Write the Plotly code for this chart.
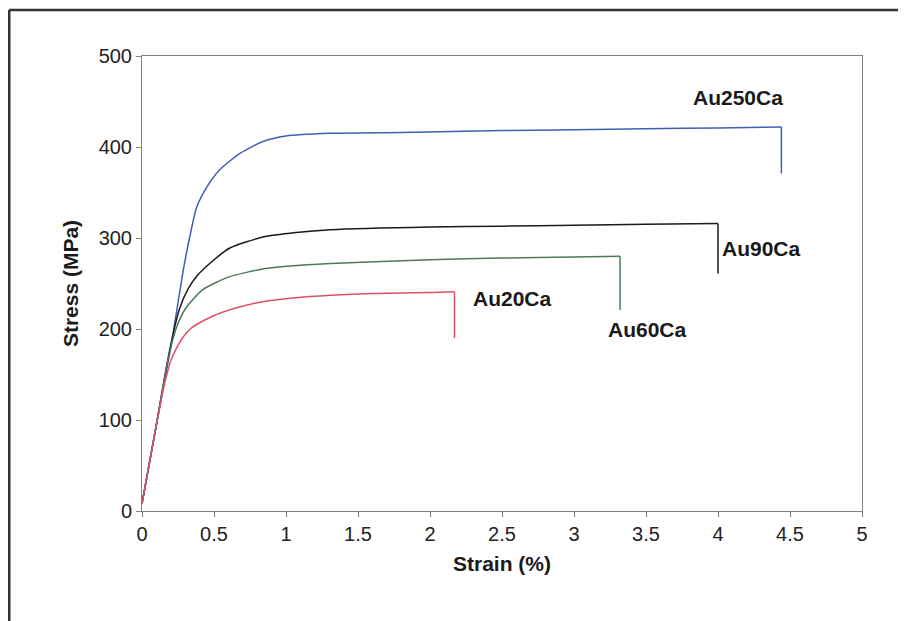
import plotly.graph_objects as go

# Au250Ca
strain_250 = [0, 0.1, 0.2, 0.287, 0.33, 0.38, 0.45, 0.54, 0.68, 0.84, 1.0, 1.3, 1.8, 2.5, 3.0, 3.5, 4.0, 4.44, 4.44]
stress_250 = [8, 95, 180, 265, 300, 334, 356, 375, 393, 406, 412, 415, 416, 418, 419, 420, 421, 422, 371]
# Au90Ca
strain_90 = [0, 0.1, 0.19, 0.26, 0.32, 0.38, 0.47, 0.61, 0.84, 1.07, 1.31, 2.0, 2.5, 3.0, 3.5, 4.0, 4.0]
stress_90 = [8, 95, 175, 222, 244, 258, 272, 289, 301, 306, 309, 312, 313, 314, 315, 316, 261]
# Au60Ca
strain_60 = [0, 0.1, 0.18, 0.24, 0.3, 0.42, 0.6, 0.84, 1.1, 1.31, 2.0, 2.5, 3.0, 3.32, 3.32]
stress_60 = [8, 95, 166, 202, 222, 243, 257, 266, 270, 272, 276, 278, 279, 280, 221]
# Au20Ca
strain_20 = [0, 0.1, 0.15, 0.2, 0.25, 0.285, 0.35, 0.49, 0.65, 0.84, 1.05, 1.31, 1.6, 2.0, 2.17, 2.17]
stress_20 = [8, 95, 135, 165, 182, 191, 202, 214, 223, 230, 234, 237, 239, 240, 241, 190]

series = [
    ("Au250Ca", strain_250, stress_250, "#3f5fb3"),
    ("Au90Ca", strain_90, stress_90, "#1a1a1a"),
    ("Au60Ca", strain_60, stress_60, "#4d7a5a"),
    ("Au20Ca", strain_20, stress_20, "#e0506a"),
]

label_names = ["Au250Ca", "Au90Ca", "Au20Ca", "Au60Ca"]
label_x = [4.14, 4.3, 2.57, 3.51]
label_y = [454, 289, 234, 199]

x_ticks = [0, 0.5, 1, 1.5, 2, 2.5, 3, 3.5, 4, 4.5, 5]
y_ticks = [0, 100, 200, 300, 400, 500]

FONT = "Liberation Sans, Arial"

fig = go.Figure()
for name, xs, ys, col in series:
    # smooth curve up to fracture point
    fig.add_trace(go.Scatter(x=xs[:-1], y=ys[:-1], mode="lines", name=name,
                             line=dict(color=col, width=1.5, shape="spline", smoothing=0.6)))
    # vertical drop at fracture
    fig.add_trace(go.Scatter(x=xs[-2:], y=ys[-2:], mode="lines", name=name,
                             line=dict(color=col, width=1.5)))

for t, lx, ly in zip(label_names, label_x, label_y):
    fig.add_annotation(x=lx, y=ly, text="<b>%s</b>" % t, showarrow=False,
                       font=dict(size=21, color="#1a1a1a", family=FONT))

axis_common = dict(showline=True, linecolor="#808080", linewidth=1, mirror=True,
                   ticks="outside", ticklen=5, tickcolor="#808080", showgrid=False,
                   zeroline=False,
                   tickfont=dict(size=20, color="#222", family=FONT))

fig.update_xaxes(range=[0, 5], tickvals=x_ticks, ticktext=[str(v) for v in x_ticks],
                 title=dict(text="<b>Strain (%)</b>", standoff=12,
                            font=dict(size=21, color="#1a1a1a", family=FONT)),
                 **axis_common)
fig.update_yaxes(range=[0, 500], tickvals=y_ticks,
                 title=dict(text="<b>Stress (MPa)</b>", standoff=14,
                            font=dict(size=21, color="#1a1a1a", family=FONT)),
                 **axis_common)

# outer frame: only its top and left edges fall inside the picture
frame = dict(color="#333", width=2.5)
fig.add_shape(type="line", xref="paper", yref="paper",
              x0=-0.1844, x1=1.3, y0=1.1011, y1=1.1011, line=frame, layer="below")
fig.add_shape(type="line", xref="paper", yref="paper",
              x0=-0.1844, x1=-0.1844, y0=-0.3, y1=1.1011, line=frame, layer="below")

fig.update_layout(width=898, height=613, showlegend=False,
                  plot_bgcolor="white", paper_bgcolor="white",
                  margin=dict(l=134, r=44, t=48, b=110))

fig.write_html("out.html")
